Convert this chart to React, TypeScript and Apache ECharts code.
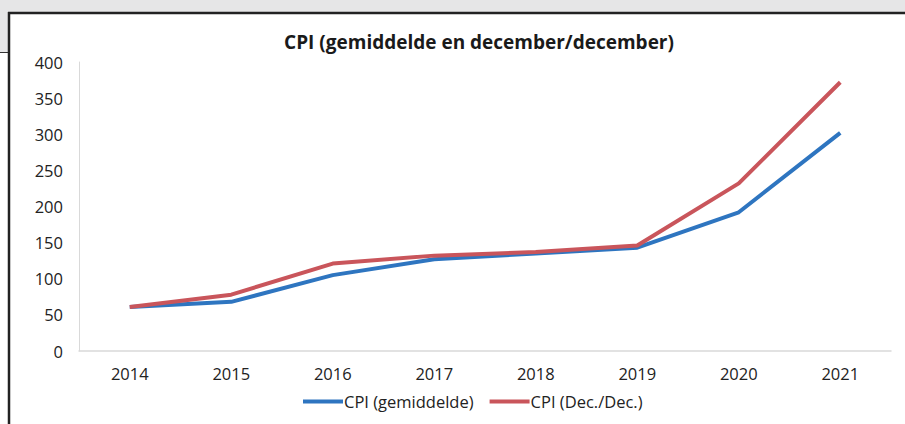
import React, { useEffect, useRef } from "react";
import * as echarts from "echarts";

const years = ["2014", "2015", "2016", "2017", "2018", "2019", "2020", "2021"];
const cpiAvg = [61, 68, 105, 127, 135, 143, 192, 302];
const cpiDec = [61, 78, 121, 132, 137, 146, 232, 372];
const titleText = "CPI (gemiddelde en december/december)";
const seriesNames = ["CPI (gemiddelde)", "CPI (Dec./Dec.)"];

export default function App() {
  const ref = useRef<HTMLDivElement>(null);
  useEffect(() => {
    if (!ref.current) return;
    const chart = echarts.init(ref.current, null, { renderer: "svg" });
    const font = "'Open Sans', 'Noto Sans', sans-serif";
    chart.setOption({
      animation: false,
      backgroundColor: "#ffffff",
      textStyle: { fontFamily: font },
      title: {
        text: titleText,
        left: 474,
        textAlign: "center",
        top: 27,
        textStyle: { fontFamily: font, fontSize: 19, fontWeight: "bold", color: "#1a1a1a" },
      },
      legend: {
        bottom: 9,
        left: 298,
        icon: "rect",
        itemWidth: 40,
        itemHeight: 4,
        itemGap: 16,
        textStyle: { fontFamily: font, fontSize: 16.5, color: "#222", padding: [0, 0, 0, -4] },
        data: seriesNames,
      },
      grid: { left: 79, right: 14, top: 62, bottom: 73, containLabel: false },
      xAxis: {
        type: "category",
        data: years,
        boundaryGap: true,
        axisLine: { lineStyle: { color: "#d9d9d9", width: 1.5 } },
        axisTick: { show: false },
        axisLabel: { fontFamily: font, fontSize: 16.5, color: "#222", margin: 14 },
      },
      yAxis: {
        type: "value",
        min: 0,
        max: 400,
        interval: 50,
        axisLine: { show: true, lineStyle: { color: "#d9d9d9", width: 1 } },
        axisTick: { show: false },
        splitLine: { show: false },
        axisLabel: { fontFamily: font, fontSize: 16.5, color: "#222", margin: 16 },
      },
      series: [
        {
          name: seriesNames[0],
          type: "line",
          data: cpiAvg,
          symbol: "none",
          lineStyle: { color: "#2e75c0", width: 4 },
          itemStyle: { color: "#2e75c0" },
        },
        {
          name: seriesNames[1],
          type: "line",
          data: cpiDec,
          symbol: "none",
          lineStyle: { color: "#c9555b", width: 4 },
          itemStyle: { color: "#c9555b" },
        },
      ],
      graphic: [
        { type: "rect", shape: { x: 0, y: 0, width: 905, height: 12 }, style: { fill: "#e6e6e7" }, silent: true },
        { type: "rect", shape: { x: 0, y: 0, width: 8, height: 52 }, style: { fill: "#e6e6e7" }, silent: true },
        { type: "line", shape: { x1: 0, y1: 52.5, x2: 8, y2: 52.5 }, style: { stroke: "#333", lineWidth: 1 }, silent: true },
        { type: "line", shape: { x1: 8, y1: 13, x2: 905, y2: 13 }, style: { stroke: "#222", lineWidth: 2.5 }, silent: true },
        { type: "line", shape: { x1: 9, y1: 12, x2: 9, y2: 424 }, style: { stroke: "#222", lineWidth: 2.5 }, silent: true },
      ],
    });
    return () => chart.dispose();
  }, []);
  return (
    <div
      ref={ref}
      style={{ position: "absolute", left: 0, top: 0, width: 905, height: 424 }}
    />
  );
}
